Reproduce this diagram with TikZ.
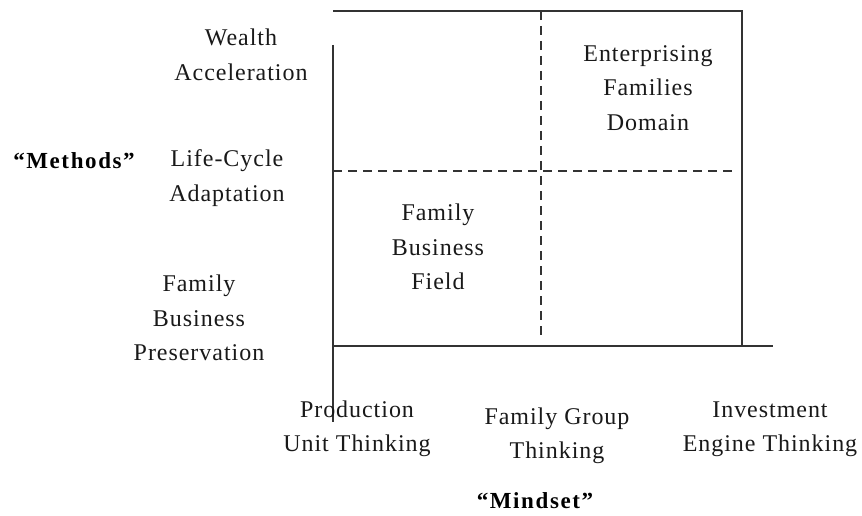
\documentclass[tikz,border=0pt]{standalone}
\usepackage{fontspec}
\setmainfont{Liberation Serif}
\newfontfamily\spacedserif[LetterSpace=4]{Liberation Serif}
\newfontfamily\spacedhead[LetterSpace=7]{Liberation Serif}
\begin{document}
\begin{tikzpicture}[x=1pt,y=-1pt,
  axis/.style={line width=2pt, draw=black!80},
  divider/.style={line width=2pt, draw=black!80, dash pattern=on 9pt off 6pt},
  lbl/.style={inner sep=0pt, align=center, text=black!90,
    font=\spacedserif\fontsize{24}{34.5}\selectfont},
  head/.style={inner sep=0pt, align=center, text=black,
    font=\spacedhead\bfseries\fontsize{23}{30}\selectfont}]
  \useasboundingbox (0,0) rectangle (862,516);

  % frame of the grid
  \coordinate (tl) at (333,11);
  \coordinate (tr) at (742,11);
  \coordinate (br) at (742,346);
  \coordinate (ytop) at (333,45);
  \coordinate (ybot) at (333,422);
  \coordinate (xl) at (333,346);
  \coordinate (xr) at (773,346);
  \coordinate (hl) at (333,171);
  \coordinate (hr) at (736,171);
  \coordinate (vt) at (541,11);
  \coordinate (vb) at (541,338);

  \draw[axis] (tl) -- (tr) -- (br);
  \draw[axis] (ytop) -- (ybot);
  \draw[axis] (xl) -- (xr);
  \draw[divider] (hl) -- (hr);
  \draw[divider] (vt) -- (vb);

  % rows
  \node[lbl] (wealth) at (241,55) {Wealth\\Acceleration};
  \node[lbl] (life) at (227,178) {Life-Cycle\\Adaptation};
  \node[lbl] (pres) at (199,318) {Family\\Business\\Preservation};
  \node[head] (methods) at (74,161) {“Methods”};

  % cells
  \node[lbl] (efd) at (648,88) {Enterprising\\Families\\Domain};
  \node[lbl] (fbf) at (438,247) {Family\\Business\\Field};

  % columns
  \node[lbl] (prod) at (357,429) {Production\\Unit Thinking};
  \node[lbl] (group) at (557,436) {Family Group\\Thinking};
  \node[lbl] (invest) at (770,429) {Investment\\Engine Thinking};
  \node[head] (mindset) at (535,501) {“Mindset”};
\end{tikzpicture}
\end{document}
